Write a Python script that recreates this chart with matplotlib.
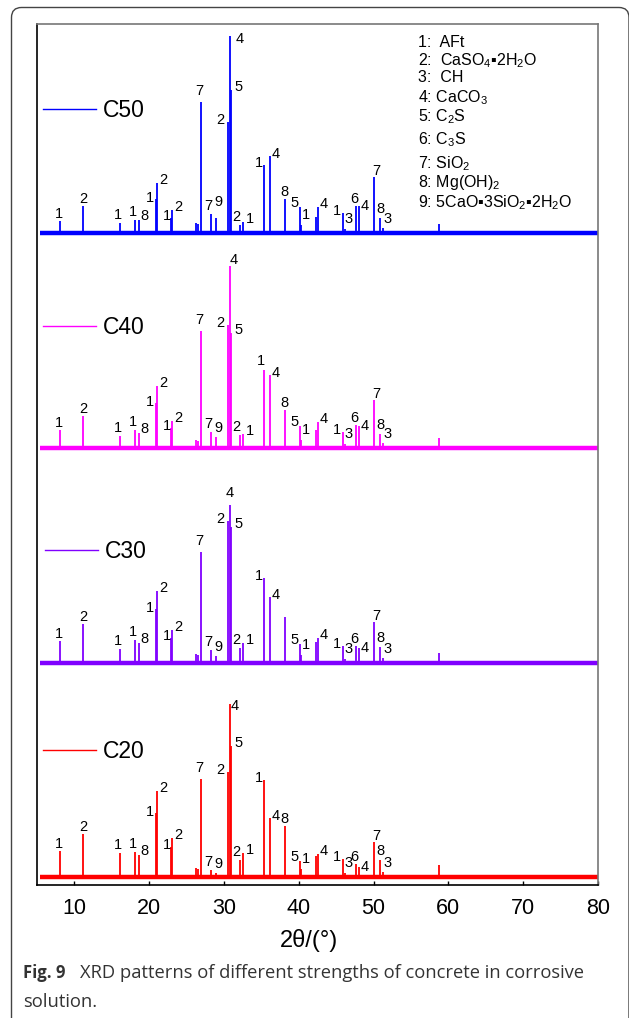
import matplotlib.pyplot as plt
from matplotlib.lines import Line2D
from matplotlib.legend import Legend
from matplotlib.patches import FancyBboxPatch
from matplotlib.transforms import IdentityTransform

plt.rcParams['font.family'] = ['Liberation Sans', 'DejaVu Sans']
plt.rcParams['mathtext.fontset'] = 'custom'
plt.rcParams['mathtext.rm'] = 'Liberation Sans'
plt.rcParams['mathtext.it'] = 'Liberation Sans:italic'

# peak positions (2theta, degrees) shared by all four patterns
two_theta = [8.07, 11.1, 16.1, 18.1, 18.6, 20.9, 21.1, 22.85, 23.05, 26.9,
             28.2, 28.9, 30.6, 30.75, 30.95, 32.2, 32.6, 35.3, 36.1, 38.1,
             40.1, 40.35, 42.3, 42.6, 45.9, 46.2, 47.6, 48.1, 50.1, 50.8,
             51.2, 58.8, 26.3, 26.55]
phase = ['1', '2', '1', '1', '8', '1', '2', '1', '2', '7',
         '7', '9', '2', '4', '5', '2', '1', '1', '4', '8',
         '5', '1', '', '4', '1', '3', '6', '4', '7', '8',
         '3', '', '', '']

# peak intensities (a.u.) above each pattern's baseline
c50 = [12, 27, 10, 13, 13, 34, 50, 15, 23, 131,
       19, 15, 111, 197, 143, 8, 11, 68, 77, 34,
       26, 8, 16, 26, 20, 4, 27, 27, 56, 15,
       5, 9, 10, 9]
c40 = [18, 32, 12, 18, 15, 45, 62, 20, 27, 117,
       16, 11, 123, 182, 115, 13, 14, 78, 73, 38,
       22, 8, 18, 26, 16, 4, 23, 22, 48, 14,
       5, 10, 8, 7]
c30 = [22, 39, 14, 23, 20, 54, 72, 25, 33, 111,
       13, 7, 142, 158, 136, 15, 20, 85, 66, 46,
       19, 8, 21, 25, 17, 4, 17, 15, 41, 16,
       5, 10, 9, 8]
c20 = [26, 43, 24, 25, 22, 64, 86, 30, 39, 98,
       7, 4, 105, 173, 131, 17, 24, 97, 59, 51,
       16, 8, 21, 23, 18, 4, 13, 10, 35, 17,
       5, 12, 9, 8]

phase_c30 = list(phase)
phase_c30[19] = ''

phase_key = ['1:  AFt',
             '2:  CaSO$_4$\u25aa2H$_2$O',
             '3:  CH',
             '4: CaCO$_3$',
             '5: C$_2$S',
             '6: C$_3$S',
             '7: SiO$_2$',
             '8: Mg(OH)$_2$',
             '9: 5CaO\u25aa3SiO$_2$\u25aa2H$_2$O']

# label offsets from the peak top, in pixels (dx, dy)
label_shift = [(-1, 7), (1, 7), (-2, 8), (-2, 8), (6, 4), (-6, 1), (6, 3), (-4, 2), (6, 3), (-1, 11),
               (-2, 8), (3, 9), (-8, 2), (4, 6), (7, 3), (-4, 8), (6, 3), (-5, 2), (6, 2), (0, 7),
               (-5, 4), (5, 10), (0, 0), (5, 3), (-6, 2), (3, 10), (-1, 7), (5, 0), (2, 6), (1, 9),
               (5, 9), (0, 0), (0, 0), (0, 0)]
shift_fix = {('C50', 13): (10, -3), ('C20', 13): (5, -2), ('C30', 13): (0, 12),
             ('C40', 17): (-3, 9), ('C50', 11): (3, 16)}

names = ['C20', 'C30', 'C40', 'C50']
series = [c20, c30, c40, c50]
labels = [phase, phase_c30, phase, phase]
colors = ['#ff0000', '#8000ff', '#ff00ff', '#0000ff']
offsets = [8, 222, 437, 652]
legend_at = [(0.0107, 0.1556), (0.0143, 0.387), (0.0107, 0.647), (0.0107, 0.900)]

fig = plt.figure(figsize=(6.29, 10.18), dpi=100)
ax = fig.add_axes([37 / 629, 1 - 885 / 1018, 561 / 629, 861 / 1018])

for name, vals, labs, color, base, (lx, ly) in zip(names, series, labels, colors, offsets, legend_at):
    ax.hlines(base, 5.4, 80, color=color, lw=3.2)
    ax.vlines(two_theta, base, [base + v for v in vals], color=color, lw=1.3)
    for i, (x, v, lab) in enumerate(zip(two_theta, vals, labs)):
        if not lab:
            continue
        dx, dy = shift_fix.get((name, i), label_shift[i])
        ax.annotate(lab, (x, base + v), xytext=(dx, dy), textcoords='offset pixels',
                    ha='center', va='center', fontsize=10.5)
    leg = Legend(ax, [Line2D([], [], color=color, lw=1)], [name], loc='center left',
                 bbox_to_anchor=(lx, ly), frameon=False, fontsize=16.5,
                 handlelength=2.3, handletextpad=0.3, borderpad=0, borderaxespad=0)
    ax.add_artist(leg)

key_y = [46.7, 65, 81.7, 102.7, 121.7, 144, 168.3, 187.3, 207.3]
for txt, y in zip(phase_key, key_y):
    ax.text((418 - 37) / 561, (885 - y) / 861, txt, transform=ax.transAxes,
            ha='left', va='baseline', fontsize=11.5)

ax.set_xlim(5, 80)
ax.set_ylim(0, 861)
ax.set_xticks(range(10, 81, 10))
ax.set_yticks([])
ax.tick_params(axis='x', direction='in', length=3, width=1, labelsize=15.5, pad=9)
for side in ['left', 'bottom']:
    ax.spines[side].set_color('black')
    ax.spines[side].set_linewidth(1.2)
for side in ['top', 'right']:
    ax.spines[side].set_color('#777777')
    ax.spines[side].set_linewidth(1.2)

ax.text((309 - 37) / 561, (885 - 941) / 861, '2\u03b8/(\u00b0)', transform=ax.transAxes,
        ha='center', va='center', fontsize=17)

# panel frame and caption
frame = FancyBboxPatch((11.5, -40), 617.5, 1050.5, boxstyle='round,pad=0,rounding_size=10',
                       transform=IdentityTransform(), fill=False, ec='#444444', lw=1)
fig.add_artist(frame)

cap_style = dict(family='Open Sans', color='#333333', va='baseline')
fig.text(23 / 629, 1 - 978 / 1018, 'Fig. 9', weight='bold', fontsize=12, **cap_style)
fig.text(80 / 629, 1 - 978 / 1018,
         'XRD patterns of different strengths of concrete in corrosive',
         fontsize=13.2, **cap_style)
fig.text(23 / 629, 1 - 1006.7 / 1018, 'solution.', fontsize=13.2, **cap_style)

fig.savefig('out.png', dpi=100)
